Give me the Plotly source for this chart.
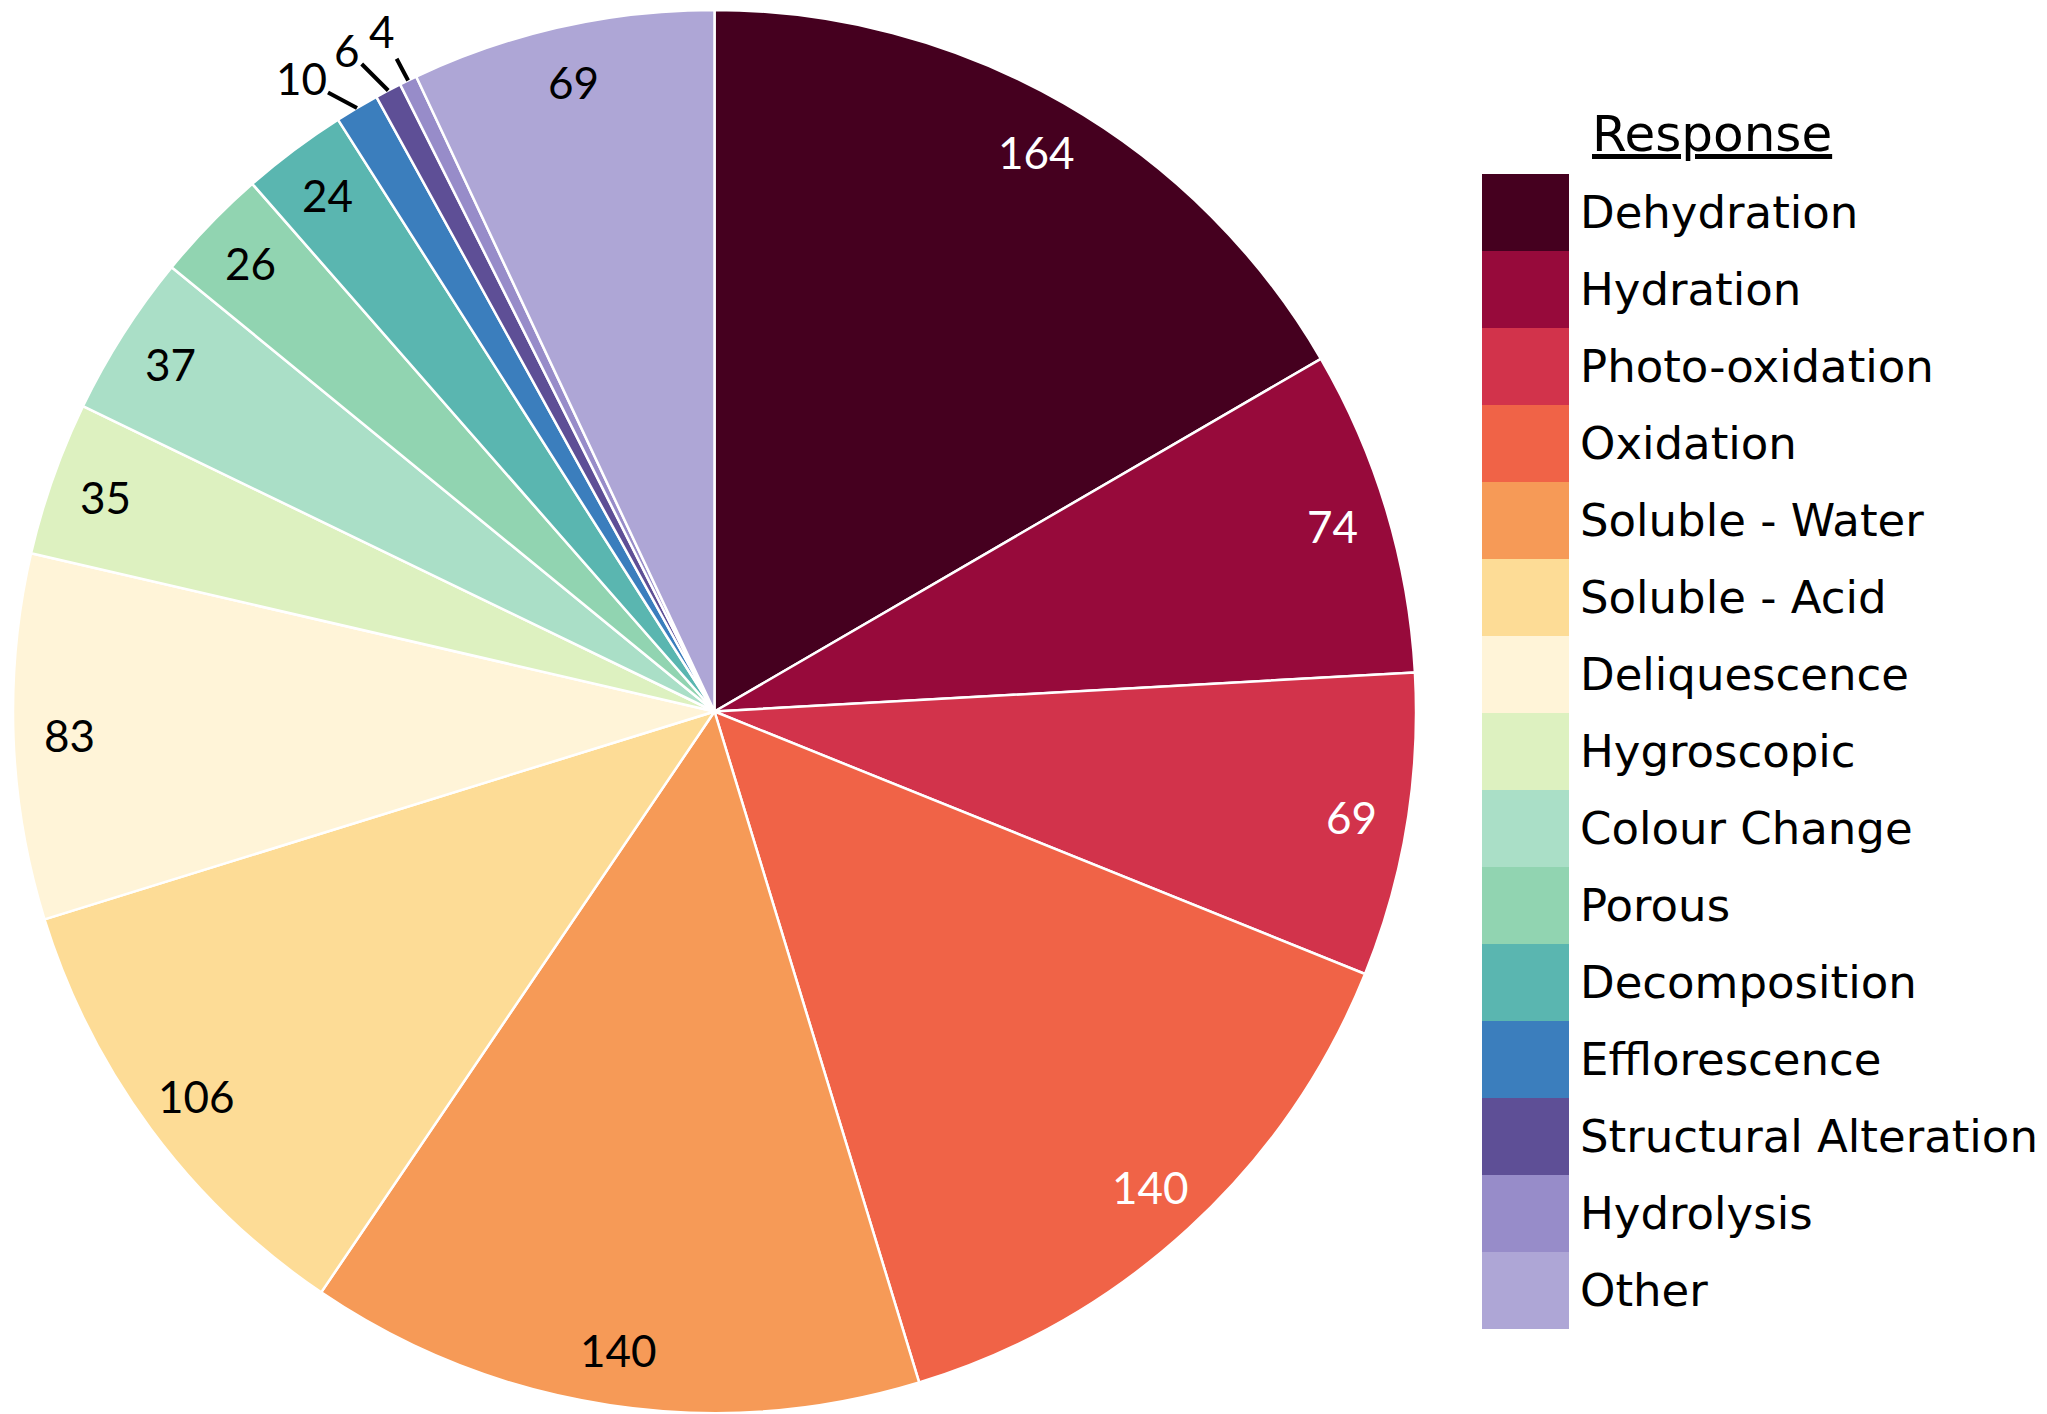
import math
import plotly.graph_objects as go

# Response categories and their counts (clockwise from 12 o'clock)
categories = [
    "Dehydration", "Hydration", "Photo-oxidation", "Oxidation",
    "Soluble - Water", "Soluble - Acid", "Deliquescence", "Hygroscopic",
    "Colour Change", "Porous", "Decomposition", "Efflorescence",
    "Structural Alteration", "Hydrolysis", "Other",
]
counts = [164, 74, 69, 140, 140, 106, 83, 35, 37, 26, 24, 10, 6, 4, 69]

colors = [
    "#45001f", "#970a3b", "#d2334b", "#f06347", "#f69a57", "#fddc96",
    "#fff4d8", "#ddf1c0", "#aadfc7", "#91d4b1", "#5ab6b0", "#3b7ebd",
    "#5e4f96", "#978cc9", "#aea6d6",
]
white_text = {"Dehydration", "Hydration", "Photo-oxidation", "Oxidation"}

W, H = 2047, 1414
NUM_FONT = "Lato"
TXT_FONT = "DejaVu Sans"

# pie geometry in pixels (from top-left)
px0, px1 = 13, 1416
py0, py1 = 10, 1413
cx = (px0 + px1) / 2
cy = (py0 + py1) / 2
R = min(px1 - px0, py1 - py0) / 2

# label offsets (px) for the thin slices labelled outside
outside_offsets = {
    "Efflorescence": (-56, -30),
    "Structural Alteration": (-41, -41),
    "Hydrolysis": (-26, -49),
}

fig = go.Figure(go.Pie(
    labels=categories,
    values=counts,
    sort=False,
    direction="clockwise",
    rotation=0,
    marker=dict(colors=colors, line=dict(color="white", width=2.5)),
    textinfo="none",
    hoverinfo="label+value",
    showlegend=False,
    domain=dict(x=[px0 / W, px1 / W], y=[1 - py1 / H, 1 - py0 / H]),
))

annotations = []
total = sum(counts)
cum = 0
for name, v in zip(categories, counts):
    mid = (cum + v / 2) / total * 2 * math.pi
    cum += v
    color = "white" if name in white_text else "black"
    if name in outside_offsets:
        tx = cx + R * math.sin(mid)
        ty = cy - R * math.cos(mid)
        ax, ay = outside_offsets[name]
        annotations.append(dict(
            x=tx / W, y=1 - ty / H, xref="paper", yref="paper",
            text=str(v), showarrow=True, arrowhead=0, arrowwidth=4,
            arrowcolor="black", ax=ax, ay=ay, standoff=0,
            xanchor="center", yanchor="middle",
            font=dict(family=NUM_FONT, size=44, color="black"),
        ))
    else:
        rr = 0.92 * R
        tx = cx + rr * math.sin(mid)
        ty = cy - rr * math.cos(mid)
        annotations.append(dict(
            x=tx / W, y=1 - ty / H, xref="paper", yref="paper",
            xanchor="center", yanchor="middle",
            text=str(v), showarrow=False,
            font=dict(family=NUM_FONT, size=44, color=color),
        ))

# legend: swatch column with labels
sw_x0, sw_x1 = 1482, 1569
row_top, row_h = 174, 77
shapes = []
for i, (name, c) in enumerate(zip(categories, colors)):
    top = row_top + i * row_h
    shapes.append(dict(
        type="rect", xref="paper", yref="paper",
        x0=sw_x0 / W, x1=sw_x1 / W,
        y0=1 - (top + row_h) / H, y1=1 - top / H,
        fillcolor=c, line=dict(width=0),
    ))
    annotations.append(dict(
        x=1578 / W, y=1 - (top + row_h / 2) / H, xref="paper", yref="paper",
        xanchor="left", yanchor="middle", text=name, showarrow=False,
        font=dict(family=TXT_FONT, size=45, color="black"),
    ))

annotations.append(dict(
    x=1712 / W, y=1 - 134 / H, xref="paper", yref="paper",
    xanchor="center", yanchor="middle", text="<u>Response</u>",
    showarrow=False, font=dict(family=TXT_FONT, size=50, color="black"),
))

fig.update_layout(
    width=W, height=H,
    margin=dict(l=0, r=0, t=0, b=0),
    paper_bgcolor="white",
    plot_bgcolor="white",
    shapes=shapes,
    annotations=annotations,
)

fig.write_html("out.html")
